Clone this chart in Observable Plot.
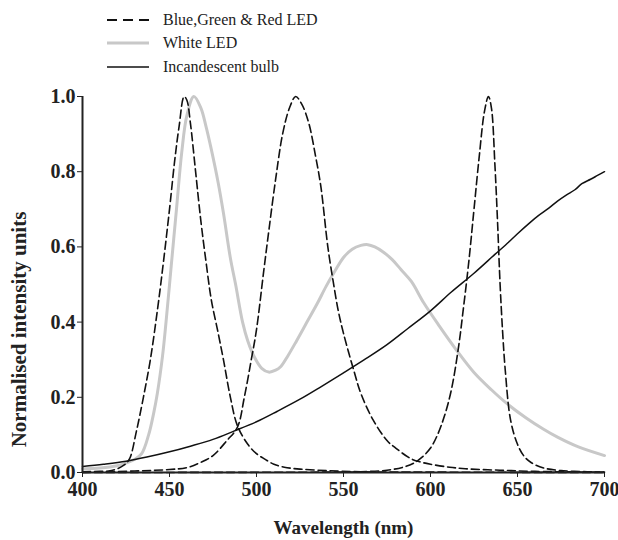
<!DOCTYPE html>
<html><head><meta charset="utf-8">
<script src="https://cdn.jsdelivr.net/npm/d3@7"></script>
<script src="https://cdn.jsdelivr.net/npm/@observablehq/plot@0.6"></script>
<style>
body{margin:0;background:#fff;font-family:"Liberation Serif",serif;color:#222;}
#legend{position:relative;height:85px;width:618px;}
.row{position:absolute;left:107px;height:20px;display:flex;align-items:center;font-size:16px;}
.row svg{margin-right:14px;}
</style></head><body>
<div id="legend"></div>
<div id="chart"></div>
<script>
// Series labels
const seriesNames = ["Blue,Green & Red LED", "White LED", "Incandescent bulb"];
const xTicks = [400, 450, 500, 550, 600, 650, 700];
const yTicks = [0, 0.2, 0.4, 0.6, 0.8, 1.0];
const xTitle = "Wavelength (nm)";
const yTitle = "Normalised intensity units";

// [wavelength nm, normalised intensity]
const blueLED = [[400,0.002],[410,0.003],[415,0.004],[420,0.01],[424,0.02],[427,0.036],[431,0.11],[435,0.2],[439,0.3],[443,0.43],[446,0.54],[450,0.7],[453,0.83],[455.5,0.92],[458.4,1.0],[460,0.99],[462,0.93],[465,0.8],[468,0.67],[471,0.56],[474,0.46],[478,0.37],[481,0.3],[485,0.2],[489,0.125],[495,0.075],[500,0.05],[505,0.035],[510,0.022],[516,0.014],[525,0.009],[540,0.005],[560,0.002],[600,0.001],[700,0]];
const greenLED = [[400,0],[430,0.004],[450,0.008],[460,0.013],[468,0.027],[475,0.045],[483,0.085],[489,0.12],[493,0.2],[497,0.3],[500,0.38],[504,0.53],[507,0.64],[511,0.78],[515,0.9],[519,0.97],[522.5,1.0],[526,0.98],[530,0.93],[534,0.84],[537,0.76],[541,0.6],[544,0.51],[547,0.43],[550,0.37],[556,0.27],[560,0.21],[567,0.14],[575,0.085],[580,0.065],[589,0.036],[595,0.027],[600,0.022],[611,0.014],[620,0.01],[640,0.006],[660,0.003],[700,0.001]];
const redLED = [[400,0],[540,0.001],[560,0.002],[575,0.006],[585,0.015],[590,0.024],[595,0.04],[600,0.065],[604,0.1],[608,0.15],[612,0.22],[616,0.33],[619,0.44],[622,0.56],[625,0.7],[628,0.84],[631,0.96],[633.3,1.0],[635,0.97],[637,0.82],[638.5,0.67],[640,0.5],[641.5,0.37],[643,0.27],[646,0.14],[650,0.075],[654,0.042],[658,0.026],[665,0.012],[675,0.005],[690,0.002],[700,0.001]];
const whiteLED = [[400,0.01],[410,0.012],[420,0.018],[425,0.025],[430,0.035],[434,0.05],[438,0.1],[441,0.16],[443,0.21],[446,0.31],[448,0.4],[451,0.55],[454,0.7],[457,0.85],[460,0.95],[464,1.0],[468,0.97],[471,0.92],[474,0.86],[478,0.77],[481,0.69],[485,0.57],[488,0.5],[492,0.4],[495,0.35],[499,0.305],[503,0.277],[507,0.267],[511,0.272],[514,0.282],[518,0.31],[523,0.35],[529,0.4],[535,0.45],[540,0.495],[545,0.535],[550,0.572],[555,0.594],[560,0.604],[564,0.606],[568,0.6],[573,0.586],[578,0.566],[583,0.54],[589,0.508],[596,0.452],[605,0.39],[615,0.325],[625,0.266],[635,0.22],[644,0.183],[655,0.145],[665,0.115],[673,0.094],[685,0.068],[700,0.045]];
const incandescent = [[400,0.016],[412,0.022],[425,0.03],[437,0.041],[450,0.055],[462,0.07],[475,0.088],[487,0.11],[500,0.135],[512,0.163],[525,0.195],[537,0.228],[550,0.265],[562,0.3],[575,0.34],[587,0.383],[600,0.43],[612,0.48],[625,0.53],[637,0.58],[645,0.613],[650,0.635],[657,0.664],[662,0.683],[668,0.703],[673,0.722],[678,0.738],[683,0.752],[687,0.768],[692,0.78],[696,0.79],[700,0.8]];

const ledRows = [
  ...blueLED.map(([x,y]) => ({x, y, peak: "blue"})),
  ...greenLED.map(([x,y]) => ({x, y, peak: "green"})),
  ...redLED.map(([x,y]) => ({x, y, peak: "red"}))
];
const whiteRows = whiteLED.map(([x,y]) => ({x, y}));
const incRows = incandescent.map(([x,y]) => ({x, y}));

// legend
const legendStyles = [
  {stroke:"#111", width:2.2, dash:"10,6"},
  {stroke:"#c8c8c8", width:3, dash:null},
  {stroke:"#111", width:1.6, dash:null}
];
const legendTops = [10, 33, 57];
const legend = document.getElementById("legend");
seriesNames.forEach((name, i) => {
  const s = legendStyles[i];
  const row = document.createElement("div");
  row.className = "row";
  row.style.top = legendTops[i] + "px";
  row.innerHTML = `<svg width="42" height="10"><line x1="0" y1="5" x2="42" y2="5" stroke="${s.stroke}" stroke-width="${s.width}" ${s.dash ? `stroke-dasharray="${s.dash}"` : ""}/></svg><span>${name}</span>`;
  legend.appendChild(row);
});

const chart = Plot.plot({
  width: 618,
  height: 455,
  marginLeft: 82,
  marginRight: 14,
  marginTop: 11,
  marginBottom: 68,
  style: {fontFamily: "Liberation Serif", color: "#222", background: "#fff"},
  x: {domain: [400, 700]},
  y: {domain: [0, 1]},
  marks: [
    Plot.axisX({ticks: xTicks, tickSize: 5, tickPadding: 4, tickFormat: d => d, label: null, fontSize: 20, fontWeight: "bold", stroke: "#222"}),
    Plot.axisY({ticks: yTicks, tickSize: 5, tickPadding: 2, tickFormat: d3.format(".1f"), label: null, fontSize: 20, fontWeight: "bold", stroke: "#222"}),
    Plot.line(whiteRows, {x: "x", y: "y", stroke: "#c8c8c8", strokeWidth: 3, curve: "catmull-rom"}),
    Plot.line(incRows, {x: "x", y: "y", stroke: "#111", strokeWidth: 1.5, curve: "catmull-rom"}),
    Plot.line(ledRows, {x: "x", y: "y", z: "peak", stroke: "#111", strokeWidth: 1.6, strokeDasharray: "8,4", curve: "catmull-rom"}),
    Plot.ruleX([400], {stroke: "#222", strokeWidth: 2}),
    Plot.ruleY([0], {stroke: "#222", strokeWidth: 2}),
    Plot.text([xTitle], {frameAnchor: "bottom", textAnchor: "middle", lineAnchor: "middle", dy: 55, fontFamily: "Liberation Serif", fontWeight: "bold", fontSize: 19}),
    Plot.text([yTitle], {frameAnchor: "left", textAnchor: "middle", lineAnchor: "middle", rotate: -90, dx: -63, dy: 45, fontFamily: "Liberation Serif", fontWeight: "bold", fontSize: 21})
  ]
});
document.getElementById("chart").appendChild(chart);
</script>
</body></html>
